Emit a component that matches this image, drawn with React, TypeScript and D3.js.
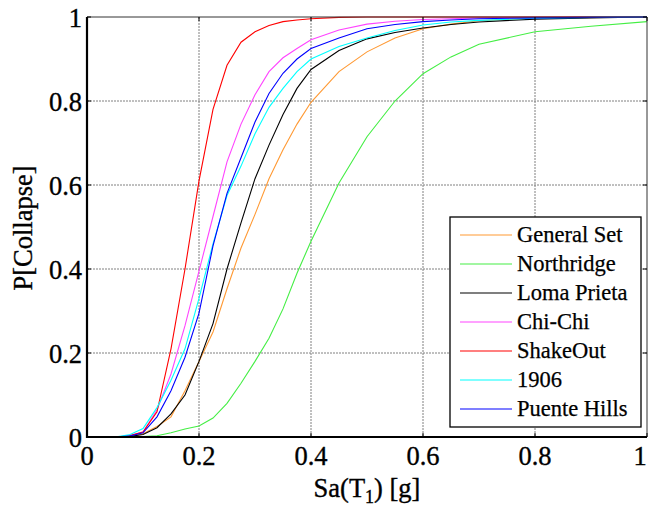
import React from "react";
import * as d3 from "d3";

const xs = [0, 0.025, 0.05, 0.075, 0.1, 0.125, 0.15, 0.175, 0.2, 0.225, 0.25, 0.275, 0.3, 0.325, 0.35, 0.375, 0.4, 0.45, 0.5, 0.55, 0.6, 0.65, 0.7, 0.8, 0.9, 1.0];

const generalSet = [0, 0, 0, 0.001, 0.008, 0.025, 0.048, 0.11, 0.18, 0.25, 0.353, 0.45, 0.53, 0.615, 0.684, 0.745, 0.797, 0.87, 0.917, 0.95, 0.972, 0.983, 0.991, 0.997, 0.999, 1];
const northridge = [0, 0, 0, 0, 0.001, 0.003, 0.01, 0.019, 0.026, 0.045, 0.08, 0.128, 0.18, 0.235, 0.305, 0.39, 0.466, 0.605, 0.715, 0.8, 0.865, 0.905, 0.935, 0.965, 0.978, 0.989];
const lomaPrieta = [0, 0, 0, 0.001, 0.006, 0.022, 0.055, 0.1, 0.18, 0.27, 0.4, 0.51, 0.615, 0.695, 0.768, 0.83, 0.875, 0.92, 0.948, 0.963, 0.974, 0.982, 0.988, 0.995, 0.998, 1];
const chiChi = [0, 0, 0, 0.003, 0.012, 0.065, 0.15, 0.265, 0.395, 0.525, 0.655, 0.745, 0.815, 0.87, 0.903, 0.925, 0.946, 0.969, 0.983, 0.99, 0.994, 0.996, 0.998, 0.999, 1, 1];
const shakeOut = [0, 0, 0, 0.003, 0.012, 0.06, 0.21, 0.4, 0.61, 0.78, 0.885, 0.94, 0.965, 0.98, 0.989, 0.993, 0.996, 0.999, 1, 1, 1, 1, 1, 1, 1, 1];
const eq1906 = [0, 0, 0, 0.005, 0.02, 0.07, 0.135, 0.21, 0.33, 0.46, 0.575, 0.645, 0.722, 0.785, 0.83, 0.87, 0.9, 0.93, 0.95, 0.968, 0.981, 0.988, 0.992, 0.997, 0.999, 1];
const puenteHills = [0, 0, 0, 0.002, 0.01, 0.048, 0.11, 0.19, 0.295, 0.455, 0.58, 0.665, 0.75, 0.818, 0.866, 0.9, 0.925, 0.95, 0.972, 0.982, 0.989, 0.993, 0.996, 0.998, 0.999, 1];

const seriesNames = ["General Set", "Northridge", "Loma Prieta", "Chi-Chi", "ShakeOut", "1906", "Puente Hills"];
const seriesValues = [generalSet, northridge, lomaPrieta, chiChi, shakeOut, eq1906, puenteHills];
const seriesColors = ["#ff9933", "#44ee44", "#000000", "#ff44ff", "#ff0000", "#00ffff", "#0000ff"];

const xTicks = [0, 0.2, 0.4, 0.6, 0.8, 1];
const yTicks = [0, 0.2, 0.4, 0.6, 0.8, 1];

export default function App() {
  const W = 649, H = 506;
  const L = 87, R = 647, T = 17, B = 437;
  const x = d3.scaleLinear().domain([0, 1]).range([L, R]);
  const y = d3.scaleLinear().domain([0, 1]).range([B, T]);
  const line = d3.line<number>().x((_, i) => x(xs[i])).y((d) => y(d));
  const font = "'Liberation Serif', 'Times New Roman', serif";
  const fmt = (v: number) => String(v);
  const txt = { fill: "#000", stroke: "#000", strokeWidth: 0.35 };

  const legX = 450, legY = 217, legW = 191, legH = 210;

  return (
    <svg width={W} height={H} style={{ position: "absolute", left: 0, top: 0, background: "#fff", fontFamily: font }}>
      <rect x={0} y={0} width={W} height={H} fill="#fff" />
      {xTicks.slice(1, -1).map((t) => (
        <line key={"gx" + t} x1={x(t)} x2={x(t)} y1={T} y2={B} stroke="#808080" strokeWidth={1} strokeDasharray="2,1" />
      ))}
      {yTicks.slice(1, -1).map((t) => (
        <line key={"gy" + t} x1={L} x2={R} y1={y(t)} y2={y(t)} stroke="#808080" strokeWidth={1} strokeDasharray="2,1" />
      ))}
      {seriesValues.map((vals, i) => (
        <path key={seriesNames[i]} d={line(vals) || ""} fill="none" stroke={seriesColors[i]} strokeWidth={1.1} />
      ))}
      <line x1={L} x2={R} y1={T} y2={T} stroke="#333" strokeWidth={1} />
      <line x1={R} x2={R} y1={T} y2={B} stroke="#333" strokeWidth={1} />
      <line x1={L} x2={L} y1={T} y2={B + 1} stroke="#000" strokeWidth={2.2} />
      <line x1={L} x2={R} y1={B} y2={B} stroke="#000" strokeWidth={2} />
      {xTicks.map((t) => (
        <g key={"tx" + t}>
          <line x1={x(t)} x2={x(t)} y1={B} y2={B - 4} stroke="#000" />
          <line x1={x(t)} x2={x(t)} y1={T} y2={T + 4} stroke="#000" />
          <text x={Math.min(x(t), 640)} y={465} fontSize={26.5} textAnchor="middle" {...txt}>{fmt(t)}</text>
        </g>
      ))}
      {yTicks.map((t) => (
        <g key={"ty" + t}>
          <line x1={L} x2={L + 4} y1={y(t)} y2={y(t)} stroke="#000" />
          <line x1={R} x2={R - 4} y1={y(t)} y2={y(t)} stroke="#000" />
          <text x={82} y={y(t) + 10} fontSize={26.5} textAnchor="end" {...txt}>{fmt(t)}</text>
        </g>
      ))}
      <text x={367} y={497} fontSize={26.5} textAnchor="middle" {...txt}>
        Sa(T<tspan fontSize={18} dy={6}>1</tspan><tspan dy={-6}>) [g]</tspan>
      </text>
      <text transform={`translate(32,228) rotate(-90)`} fontSize={26.5} textAnchor="middle" {...txt}>P[Collapse]</text>
      <rect x={legX} y={legY} width={legW} height={legH} fill="#fff" stroke="#000" strokeWidth={1.3} />
      {seriesNames.map((n, i) => {
        const ry = 235 + i * 29;
        return (
          <g key={"lg" + n}>
            <line x1={460} x2={512} y1={ry} y2={ry} stroke={seriesColors[i]} strokeWidth={1.1} />
            <text x={517} y={ry + 7} fontSize={22.5} {...txt} strokeWidth={0.25}>{n}</text>
          </g>
        );
      })}
    </svg>
  );
}
